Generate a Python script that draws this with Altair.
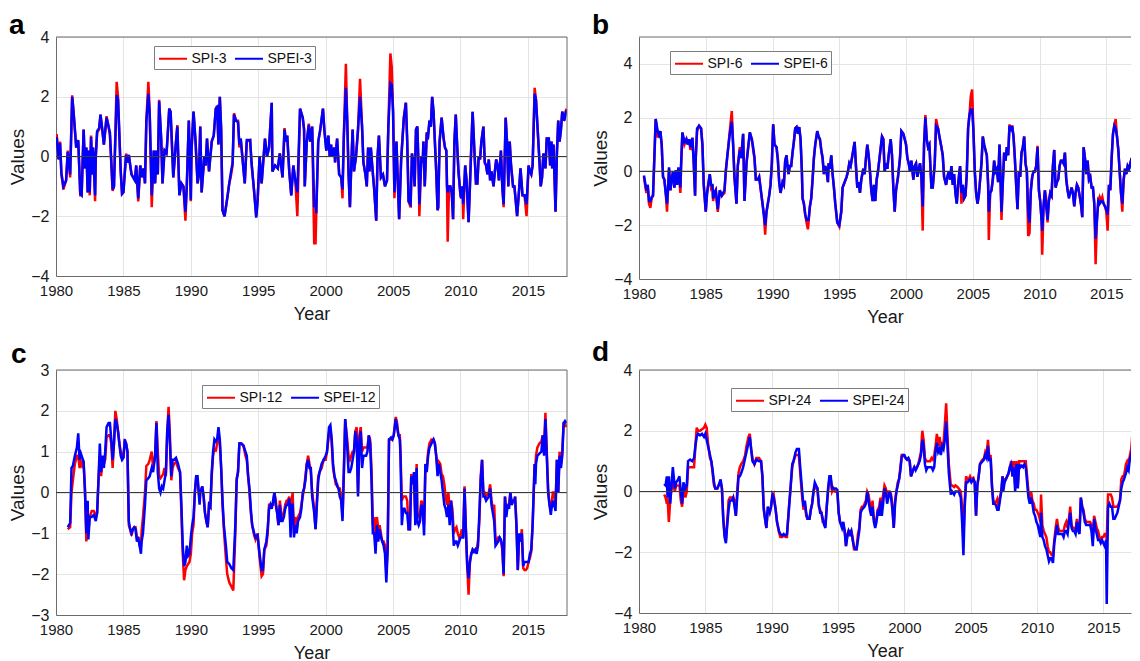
import altair as alt
import pandas as pd

FONT = "Liberation Sans"
XTICKS = [1980, 1985, 1990, 1995, 2000, 2005, 2010, 2015]

# ---------------- panel a : SPI-3 / SPEI-3 ----------------
A_YEAR = [
    1980.05, 1980.2, 1980.3, 1980.4, 1980.55, 1980.75, 1980.87, 1981.05, 1981.2, 1981.3,
    1981.5, 1981.65, 1981.8, 1981.9, 1982.05, 1982.15, 1982.25, 1982.35, 1982.4, 1982.5,
    1982.6, 1982.7, 1982.75, 1982.9, 1982.95, 1983.05, 1983.2, 1983.3, 1983.45, 1983.55,
    1983.75, 1983.9, 1984.0, 1984.2, 1984.3, 1984.5, 1984.6, 1984.8, 1984.9, 1985.0,
    1985.2, 1985.3, 1985.4, 1985.6, 1985.85, 1985.95, 1986.1, 1986.25, 1986.4, 1986.5,
    1986.6, 1986.7, 1986.85, 1986.95, 1987.1, 1987.25, 1987.35, 1987.45, 1987.55, 1987.65,
    1987.8, 1987.9, 1988.05, 1988.2, 1988.4, 1988.5, 1988.7, 1988.9, 1989.0, 1989.15,
    1989.3, 1989.45, 1989.6, 1989.7, 1989.85, 1990.0, 1990.05, 1990.2, 1990.35, 1990.5,
    1990.6, 1990.7, 1990.8, 1991.0, 1991.1, 1991.2, 1991.35, 1991.55, 1991.7, 1991.85,
    1991.95, 1992.05, 1992.15, 1992.25, 1992.35, 1992.5, 1992.7, 1992.85, 1992.95, 1993.1,
    1993.2, 1993.35, 1993.5, 1993.6, 1993.7, 1994.0, 1994.15, 1994.4, 1994.5, 1994.7,
    1994.85, 1994.95, 1995.1, 1995.25, 1995.5, 1995.65, 1995.8, 1996.0, 1996.05, 1996.25,
    1996.45, 1996.6, 1996.8, 1996.95, 1997.05, 1997.15, 1997.3, 1997.45, 1997.6, 1997.75,
    1997.9, 1998.1, 1998.3, 1998.4, 1998.45, 1998.6, 1998.75, 1998.85, 1999.0, 1999.15,
    1999.25, 1999.3, 1999.45, 1999.6, 1999.8, 1999.9, 2000.05, 2000.2, 2000.3, 2000.4,
    2000.5, 2000.65, 2000.7, 2000.85, 2001.0, 2001.15, 2001.25, 2001.35, 2001.5, 2001.6,
    2001.7, 2001.8, 2001.9, 2002.0, 2002.1, 2002.25, 2002.4, 2002.55, 2002.7, 2002.8,
    2002.95, 2003.05, 2003.15, 2003.25, 2003.35, 2003.45, 2003.6, 2003.75, 2003.85, 2003.95,
    2004.1, 2004.25, 2004.4, 2004.55, 2004.65, 2004.8, 2004.9, 2005.0, 2005.1, 2005.25,
    2005.45, 2005.6, 2005.7, 2005.8, 2005.95, 2006.05, 2006.15, 2006.3, 2006.4, 2006.5,
    2006.6, 2006.7, 2006.8, 2006.9, 2006.95, 2007.1, 2007.2, 2007.25, 2007.35, 2007.5,
    2007.6, 2007.7, 2007.8, 2007.9, 2008.0, 2008.1, 2008.2, 2008.3, 2008.35, 2008.45,
    2008.6, 2008.75, 2008.85, 2008.95, 2009.0, 2009.05, 2009.15, 2009.25, 2009.35, 2009.45,
    2009.55, 2009.65, 2009.75, 2009.85, 2010.0, 2010.05, 2010.15, 2010.2, 2010.35, 2010.45,
    2010.6, 2010.7, 2010.8, 2010.9, 2011.05, 2011.15, 2011.25, 2011.35, 2011.45, 2011.55,
    2011.7, 2011.8, 2011.9, 2012.0, 2012.1, 2012.2, 2012.3, 2012.45, 2012.55, 2012.65,
    2012.75, 2012.85, 2013.0, 2013.1, 2013.2, 2013.35, 2013.45, 2013.55, 2013.65, 2013.75,
    2013.9, 2014.0, 2014.2, 2014.35, 2014.45, 2014.6, 2014.75, 2014.9, 2015.05, 2015.15,
    2015.25, 2015.35, 2015.5, 2015.6, 2015.75, 2015.85, 2015.95, 2016.05, 2016.15, 2016.3,
    2016.4, 2016.55, 2016.65, 2016.75, 2016.8, 2016.9, 2017.05, 2017.15, 2017.25, 2017.35,
    2017.45, 2017.55, 2017.7, 2017.85]
A_SPI = [
    0.75, -0.1, 0.5, -0.6, -1.1, -0.8, 0.2, -0.7, 2.05, 1.5,
    0.3, 0.5, -1.3, -1.3, 0.9, -0.4, 0.3, -1.2, 0.2, -1.3,
    0.7, -0.6, 0.3, -1.5, 0.0, 0.8, 0.9, 1.4, 0.8, 0.4,
    1.35, 1.0, 0.7, -1.15, -1.0, 2.5, 2.0, -0.5, -1.25, -1.2,
    0.1, -0.2, 0.05, -0.6, -0.8, -0.3, -1.5, -0.3, -0.7, -0.4,
    -0.9, 1.2, 2.5, 1.5, -1.7, 0.2, -0.9, 0.2, -0.6, 1.9,
    0.6, -0.9, 0.25, 0.1, 1.6, 1.5, -0.7, 0.5, 1.05, -1.3,
    -0.9, -1.0, -2.15, -1.0, 1.2, -1.5, 0.2, 1.5, 0.5, -0.9,
    -0.6, 1.0, -1.2, 0.0, -0.3, 0.6, -0.5, 0.5, 0.7, 1.6,
    1.7, 0.4, 2.0, 0.9, -1.8, -2.0, -1.4, -0.9, -0.7, -0.3,
    1.45, 1.2, 1.2, 0.3, 0.6, -0.9, 0.5, 0.55, -0.2, -1.2,
    -2.0, -1.5, 0.0, -0.9, 0.6, 0.0, 0.3, 1.8, -0.5, -0.3,
    -0.4, 0.1, -0.7, 0.95, 0.5, 0.7, -0.5, -1.3, -0.3, -0.8,
    -2.0, 1.6, 1.3, 0.9, -1.0, 0.5, 1.1, 0.5, 1.0, -2.9,
    -2.9, -2.0, 0.5, 0.9, 1.6, 0.9, 0.2, 0.7, 0.0, 0.4,
    0.0, 0.3, -0.2, 0.6, -0.6, -0.7, -1.4, 0.7, 3.1, 1.2,
    -0.6, -1.7, -0.3, 0.9, -0.5, 0.0, 0.9, 2.6, 1.0, -0.2,
    -0.6, -1.0, 0.3, -0.5, 0.3, -0.3, -1.1, -2.15, 0.0, 0.7,
    -0.7, -0.6, -1.0, -0.8, 1.0, 3.45, 3.0, 1.5, -1.4, 0.5,
    -2.1, -0.1, 0.6, 1.3, 1.8, 0.5, -1.5, -1.7, 0.1, -0.2,
    -1.0, 0.9, 1.0, -0.5, -2.0, 0.0, -0.2, 0.5, -1.0, 0.8,
    0.7, 1.2, 1.0, 2.0, 1.5, 0.5, -0.5, -1.8, -1.7, 0.5,
    1.3, 0.6, 0.3, 0.2, -1.0, -2.85, -1.0, -1.0, -1.2, -2.1,
    0.5, 1.4, 0.4, -0.5, -1.3, -1.4, -1.0, -2.1, -0.3, -0.8,
    -2.2, -1.0, 0.3, 1.5, 0.0, -0.9, -0.9, 0.0, -0.1, 0.5,
    1.0, -0.2, -0.3, -0.6, -0.1, -0.8, -0.5, -1.0, -0.5, -0.1,
    -0.3, -0.8, 0.2, -1.0, -1.7, 1.3, 0.5, -1.0, 0.5, -0.3,
    -1.0, -1.0, -2.0, -1.1, -0.4, -1.3, -1.3, -2.0, -0.3, -0.5,
    -0.6, -0.3, 2.3, 1.9, 0.7, -0.1, -1.0, -0.7, 0.1, -0.4,
    0.6, 0.6, -0.3, 0.5, -0.4, 0.4, -1.85, 0.1, 1.2, 0.5,
    0.9, 1.5, 1.3, 1.6]
A_SPEI = [
    0.65, -0.1, 0.45, -0.55, -1.0, -0.8, 0.15, -0.6, 2.0, 1.5,
    0.3, 0.55, -1.25, -1.3, 0.9, -0.4, 0.3, -1.2, 0.2, -1.2,
    0.65, -0.6, 0.3, -1.3, 0.0, 0.85, 0.95, 1.4, 0.85, 0.4,
    1.3, 1.0, 0.8, -1.1, -1.0, 2.05, 1.9, -0.5, -1.25, -1.2,
    0.05, -0.2, 0.05, -0.6, -0.8, -0.3, -1.4, -0.3, -0.7, -0.4,
    -0.9, 1.15, 2.1, 1.4, -1.3, 0.2, -0.9, 0.2, -0.6, 1.85,
    0.6, -0.9, 0.2, 0.1, 1.6, 1.5, -0.7, 0.5, 1.0, -1.3,
    -0.9, -1.0, -1.85, -1.0, 1.2, -1.45, 0.2, 1.5, 0.5, -0.9,
    -0.6, 1.0, -1.2, 0.0, -0.3, 0.6, -0.5, 0.5, 0.7, 1.6,
    1.65, 0.4, 2.0, 0.9, -1.8, -2.0, -1.4, -0.9, -0.6, -0.2,
    1.4, 1.2, 1.15, 0.4, 0.6, -0.9, 0.55, 0.55, -0.2, -1.2,
    -2.05, -1.5, 0.0, -0.9, 0.6, 0.0, 0.3, 1.8, -0.5, -0.3,
    -0.4, 0.1, -0.7, 0.9, 0.5, 0.7, -0.5, -1.3, -0.3, -0.8,
    -1.2, 1.6, 1.3, 0.9, -1.0, 0.5, 1.05, 0.5, 1.0, -1.7,
    -1.5, -1.9, 0.5, 0.9, 1.6, 0.9, 0.2, 0.7, 0.0, 0.4,
    0.0, 0.3, -0.2, 0.6, -0.6, -0.7, -1.1, 0.7, 2.3, 1.2,
    -0.6, -1.7, -0.3, 0.9, -0.5, 0.0, 0.9, 2.0, 1.0, -0.2,
    -0.6, -1.0, 0.3, -0.5, 0.3, -0.3, -1.1, -2.15, 0.0, 0.7,
    -0.7, -0.6, -1.0, -0.8, 1.0, 2.45, 2.4, 1.5, -1.2, 0.5,
    -2.1, -0.1, 0.6, 1.3, 1.8, 0.5, -1.5, -1.6, 0.1, -0.2,
    -1.0, 0.9, 1.0, -0.5, -1.6, 0.0, -0.2, 0.5, -1.0, 0.8,
    0.7, 1.2, 1.0, 2.0, 1.5, 0.5, -0.5, -1.8, -1.7, 0.5,
    1.3, 0.6, 0.3, 0.2, -1.0, -1.2, -1.0, -1.0, -1.2, -2.1,
    0.5, 1.4, 0.4, -0.5, -1.3, -1.4, -1.0, -1.6, -0.3, -0.8,
    -2.2, -1.0, 0.3, 1.5, 0.0, -0.9, -0.9, 0.0, -0.1, 0.5,
    1.0, -0.2, -0.3, -0.6, -0.1, -0.8, -0.5, -1.0, -0.5, -0.1,
    -0.3, -0.8, 0.2, -1.0, -1.6, 1.3, 0.5, -1.0, 0.5, -0.3,
    -1.0, -1.0, -2.0, -1.1, -0.4, -1.3, -1.3, -1.6, -0.3, -0.5,
    -0.6, -0.3, 2.1, 1.9, 0.7, -0.1, -1.0, -0.7, 0.1, -0.4,
    0.6, 0.6, -0.3, 0.5, -0.4, 0.4, -1.85, 0.1, 1.2, 0.5,
    0.9, 1.5, 1.2, 1.55]

# ---------------- panel b : SPI-6 / SPEI-6 ----------------
B_YEAR = [
    1980.37, 1980.55, 1980.65, 1980.75, 1980.85, 1980.95, 1981.05, 1981.15, 1981.25, 1981.4,
    1981.5, 1981.6, 1981.7, 1981.8, 1981.9, 1982.0, 1982.1, 1982.2, 1982.25, 1982.35,
    1982.45, 1982.55, 1982.65, 1982.75, 1982.85, 1982.95, 1983.1, 1983.15, 1983.25, 1983.4,
    1983.55, 1983.65, 1983.75, 1983.85, 1984.0, 1984.1, 1984.2, 1984.25, 1984.35, 1984.5,
    1984.65, 1984.75, 1984.85, 1985.0, 1985.1, 1985.3, 1985.4, 1985.5, 1985.55, 1985.65,
    1985.75, 1985.9, 1986.05, 1986.2, 1986.4, 1986.5, 1986.6, 1986.8, 1986.95, 1987.05,
    1987.15, 1987.3, 1987.4, 1987.55, 1987.65, 1987.8, 1987.9, 1988.05, 1988.3, 1988.45,
    1988.55, 1988.65, 1988.75, 1988.9, 1989.0, 1989.1, 1989.25, 1989.35, 1989.45, 1989.55,
    1989.65, 1989.75, 1989.85, 1989.95, 1990.05, 1990.15, 1990.3, 1990.4, 1990.5, 1990.6,
    1990.75, 1990.85, 1990.95, 1991.05, 1991.1, 1991.2, 1991.3, 1991.4, 1991.5, 1991.6,
    1991.7, 1991.8, 1991.9, 1992.0, 1992.1, 1992.2, 1992.25, 1992.35, 1992.45, 1992.55,
    1992.65, 1992.7, 1992.8, 1992.9, 1993.0, 1993.1, 1993.2, 1993.35, 1993.45, 1993.55,
    1993.65, 1993.75, 1993.85, 1993.95, 1994.05, 1994.15, 1994.2, 1994.3, 1994.4, 1994.5,
    1994.6, 1994.7, 1994.85, 1995.0, 1995.15, 1995.25, 1995.4, 1995.55, 1995.65, 1995.75,
    1995.85, 1996.05, 1996.15, 1996.25, 1996.35, 1996.45, 1996.55, 1996.65, 1996.8, 1996.9,
    1997.0, 1997.1, 1997.2, 1997.3, 1997.4, 1997.5, 1997.6, 1997.7, 1997.8, 1997.9,
    1998.2, 1998.3, 1998.4, 1998.5, 1998.6, 1998.7, 1998.85, 1998.95, 1999.05, 1999.15,
    1999.25, 1999.4, 1999.55, 1999.65, 1999.8, 2000.0, 2000.1, 2000.2, 2000.3, 2000.4,
    2000.55, 2000.65, 2000.75, 2000.85, 2000.95, 2001.05, 2001.15, 2001.25, 2001.35, 2001.45,
    2001.55, 2001.65, 2001.75, 2001.9, 2002.0, 2002.15, 2002.25, 2002.4, 2002.5, 2002.65,
    2002.75, 2002.85, 2003.0, 2003.1, 2003.2, 2003.3, 2003.4, 2003.5, 2003.6, 2003.7,
    2003.8, 2003.9, 2004.0, 2004.05, 2004.15, 2004.25, 2004.35, 2004.45, 2004.55, 2004.65,
    2004.75, 2004.85, 2004.95, 2005.05, 2005.15, 2005.25, 2005.35, 2005.45, 2005.55, 2005.65,
    2005.75, 2005.85, 2005.95, 2006.05, 2006.15, 2006.2, 2006.3, 2006.4, 2006.5, 2006.6,
    2006.7, 2006.8, 2006.9, 2007.0, 2007.05, 2007.15, 2007.25, 2007.35, 2007.45, 2007.55,
    2007.65, 2007.75, 2007.85, 2007.95, 2008.05, 2008.15, 2008.25, 2008.35, 2008.45, 2008.55,
    2008.65, 2008.75, 2008.85, 2008.95, 2009.05, 2009.15, 2009.25, 2009.35, 2009.45, 2009.55,
    2009.65, 2009.75, 2009.85, 2009.95, 2010.05, 2010.15, 2010.2, 2010.3, 2010.4, 2010.5,
    2010.6, 2010.7, 2010.8, 2010.9, 2011.0, 2011.1, 2011.2, 2011.3, 2011.4, 2011.5,
    2011.6, 2011.7, 2011.8, 2011.9, 2012.0, 2012.1, 2012.2, 2012.3, 2012.4, 2012.5,
    2012.6, 2012.7, 2012.8, 2012.9, 2013.0, 2013.1, 2013.2, 2013.3, 2013.4, 2013.5,
    2013.6, 2013.7, 2013.8, 2013.9, 2014.0, 2014.1, 2014.2, 2014.3, 2014.4, 2014.5,
    2014.6, 2014.7, 2014.8, 2014.9, 2015.0, 2015.1, 2015.2, 2015.3, 2015.4, 2015.5,
    2015.6, 2015.7, 2015.8, 2015.9, 2016.0, 2016.1, 2016.2, 2016.3, 2016.4, 2016.5,
    2016.6, 2016.7, 2016.8, 2016.9, 2017.0, 2017.1, 2017.2, 2017.3, 2017.4, 2017.5,
    2017.6, 2017.7]
B_SPI = [
    -0.2, -0.8, -0.5, -1.2, -1.35, -1.0, -0.9, 0.5, 1.95, 1.3,
    1.3, 1.5, 1.0, -0.2, -0.3, -0.8, -1.5, -0.4, 0.1, -0.7,
    -0.3, 0.0, -0.6, 0.0, -0.5, 0.1, -0.8, 0.2, 1.45, 1.0,
    1.2, 1.0, 1.2, 0.8, 1.25, 0.3, -0.9, 0.5, 1.5, 1.7,
    1.6, 1.0, -0.5, -1.5, -0.8, -0.1, -0.6, -0.5, -1.1, -0.8,
    -0.7, -1.5, -0.7, -0.9, -0.8, 0.0, 0.5, 1.5, 2.25, 1.0,
    -0.2, -1.2, 0.2, 0.9, 0.5, 1.4, -1.1, 0.3, 1.45, 1.2,
    0.8, 0.5, -0.3, -0.3, -0.2, -0.6, -1.2, -1.6, -2.35, -1.5,
    -1.2, -0.9, -0.5, 0.3, 1.75, 1.0, 0.9, 0.5, -0.4, -0.8,
    -0.4, -0.5, 0.4, 0.6, 0.3, -0.1, 0.2, 0.2, 0.7, 1.1,
    1.6, 1.65, 1.4, 1.65, 1.2, 0.0, -1.0, -1.2, -1.6, -1.9,
    -2.15, -1.9, -1.3, -1.0, -0.3, 0.5, 1.0, 1.5, 1.3, 1.2,
    0.8, 0.5, -0.1, 0.2, 0.0, -0.4, 0.3, 0.1, 0.6, -0.1,
    -0.6, -1.2, -1.9, -2.05, -1.5, -0.6, -0.4, -0.2, 0.0, 0.3,
    0.2, 0.8, 1.1, 0.2, -0.6, -0.4, -0.8, -0.3, 0.1, -0.1,
    0.5, 1.0, 0.6, 0.0, -0.7, -1.1, -0.5, -1.1, -0.3, 0.0,
    1.3, 1.2, 0.0, 0.3, 0.1, 0.6, 1.2, 0.6, -0.6, -1.5,
    -0.7, -0.2, 0.5, 1.5, 1.4, 1.0, 0.5, 0.3, 0.0, 0.4,
    -0.3, 0.2, 0.3, -0.2, 0.1, 0.3, -0.2, -2.2, 1.0, 2.1,
    1.2, 0.9, 1.0, -0.6, -0.6, 0.3, 1.95, 1.6, 1.3, 0.9,
    0.6, -0.2, -0.5, -0.2, 0.0, -0.3, 0.2, -0.5, -0.1, -0.8,
    -1.2, -0.5, 0.0, 0.2, -1.2, -0.5, -1.0, -0.9, -0.1, 1.6,
    2.1, 2.8, 3.05, 1.5, 0.0, -0.8, -1.2, -0.9, -0.3, 0.3,
    1.3, 1.0, 0.8, 0.6, -0.5, -2.55, -0.8, -0.7, -0.3, 0.4,
    0.0, 0.1, -0.4, 1.0, 0.2, -1.8, -0.4, 0.7, 0.4, 0.9,
    0.6, 1.75, 1.5, 1.7, 1.3, 0.5, -0.5, -1.4, 0.0, -0.2,
    0.7, 0.9, 1.3, 0.3, 0.0, -2.4, -2.3, -0.7, -0.2, 0.0,
    0.0, 0.2, 0.95, -0.7, -1.1, -1.8, -3.1, -1.3, -0.7, -1.0,
    -1.9, -1.1, -0.8, -0.9, 0.2, 0.8, -0.6, -0.4, -0.3, 0.2,
    0.4, 0.4, 0.3, 0.7, -0.3, -0.7, -0.9, -0.8, -0.6, -0.8,
    -1.3, -0.8, -0.5, -0.6, -0.9, -1.2, -1.7, 0.9, 0.5, -0.1,
    0.4, -0.3, -0.2, -0.6, -0.6, -1.2, -3.45, -1.8, -1.1, -0.95,
    -1.1, -0.95, -1.2, -1.3, -1.5, -2.2, -0.5, -0.7, 0.5, 1.4,
    1.7, 1.95, 1.3, 0.8, 0.0, -0.8, -1.5, -0.3, 0.1, -0.1,
    0.2, 0.1, 0.3, 0.5, -0.6, 0.6, 1.3, 0.8, 0.3, 1.3,
    0.5, 0.3]
B_SPEI = [
    -0.15, -0.7, -0.5, -1.1, -1.1, -0.95, -0.9, 0.5, 1.95, 1.5,
    1.35, 1.5, 1.0, -0.2, -0.3, -0.8, -1.2, -0.4, 0.15, -0.7,
    -0.3, 0.0, -0.6, 0.05, -0.5, 0.15, -0.6, 0.2, 1.45, 1.1,
    1.2, 1.0, 1.2, 0.9, 1.25, 0.3, -0.9, 0.5, 1.6, 1.7,
    1.6, 1.0, -0.5, -1.5, -0.8, -0.1, -0.5, -0.5, -1.0, -0.8,
    -0.7, -1.4, -0.7, -0.9, -0.7, 0.0, 0.5, 1.4, 1.85, 1.0,
    -0.2, -1.2, 0.2, 0.8, 0.5, 1.4, -1.1, 0.3, 1.45, 1.2,
    0.9, 0.5, -0.3, -0.3, -0.2, -0.6, -1.2, -1.6, -2.0, -1.5,
    -1.2, -0.9, -0.5, 0.3, 1.75, 1.0, 0.9, 0.4, -0.4, -0.8,
    -0.4, -0.5, 0.4, 0.6, 0.3, -0.1, 0.2, 0.2, 0.7, 1.1,
    1.6, 1.65, 1.4, 1.65, 1.2, 0.0, -1.0, -1.2, -1.6, -1.8,
    -1.8, -1.8, -1.3, -1.0, -0.3, 0.5, 1.0, 1.5, 1.3, 1.2,
    0.8, 0.5, -0.1, 0.2, 0.0, -0.4, 0.3, 0.1, 0.6, -0.1,
    -0.6, -1.2, -1.9, -2.0, -1.5, -0.6, -0.4, -0.2, 0.0, 0.3,
    0.2, 0.8, 1.1, 0.2, -0.6, -0.4, -0.8, -0.3, 0.1, -0.1,
    0.5, 1.0, 0.6, 0.0, -0.7, -1.1, -0.5, -1.1, -0.3, 0.0,
    1.3, 1.2, 0.0, 0.3, 0.1, 0.6, 1.2, 0.6, -0.6, -1.5,
    -0.7, -0.2, 0.5, 1.5, 1.4, 1.0, 0.5, 0.3, 0.0, 0.4,
    -0.3, 0.2, 0.3, -0.2, 0.1, 0.3, -0.2, -1.3, 1.0, 2.0,
    1.2, 0.9, 1.0, -0.6, -0.6, 0.3, 1.7, 1.6, 1.3, 0.9,
    0.6, -0.2, -0.5, -0.2, 0.0, -0.3, 0.2, -0.5, -0.1, -0.8,
    -1.2, -0.5, 0.0, 0.2, -0.8, -0.5, -1.0, -0.9, -0.1, 1.6,
    2.1, 2.3, 2.3, 1.5, 0.0, -0.8, -1.2, -0.9, -0.3, 0.3,
    1.3, 1.0, 0.8, 0.6, -0.5, -1.5, -0.8, -0.7, -0.3, 0.4,
    0.0, 0.1, -0.4, 1.0, 0.2, -1.5, -0.4, 0.7, 0.4, 0.9,
    0.6, 1.7, 1.5, 1.7, 1.3, 0.5, -0.5, -1.4, 0.0, -0.2,
    0.7, 0.9, 1.3, 0.3, 0.0, -1.5, -1.9, -0.7, -0.2, 0.0,
    0.0, 0.2, 0.9, -0.7, -1.1, -1.8, -2.2, -1.3, -0.7, -1.3,
    -1.8, -1.1, -0.8, -0.9, 0.2, 0.8, -0.6, -0.4, -0.3, 0.2,
    0.4, 0.4, 0.3, 0.7, -0.3, -0.7, -1.0, -0.8, -0.6, -0.8,
    -1.3, -0.8, -0.5, -0.6, -0.9, -1.2, -1.7, 0.9, 0.5, -0.1,
    0.4, -0.3, -0.2, -0.6, -0.6, -1.2, -2.5, -1.8, -1.1, -1.2,
    -1.1, -1.1, -1.2, -1.3, -1.4, -1.6, -0.5, -0.7, 0.5, 1.4,
    1.7, 1.6, 1.3, 0.8, 0.0, -0.8, -1.2, -0.3, 0.1, -0.1,
    0.2, 0.1, 0.3, 0.5, -0.6, 0.6, 1.3, 0.8, 0.3, 1.3,
    0.5, 0.3]

# ---------------- panel c : SPI-12 / SPEI-12 ----------------
C_YEAR = [
    1980.87, 1981.05, 1981.15, 1981.25, 1981.4, 1981.55, 1981.65, 1981.75, 1981.85, 1981.95,
    1982.05, 1982.15, 1982.25, 1982.35, 1982.4, 1982.5, 1982.65, 1982.8, 1982.95, 1983.05,
    1983.15, 1983.25, 1983.35, 1983.45, 1983.55, 1983.65, 1983.75, 1983.9, 1984.0, 1984.1,
    1984.2, 1984.3, 1984.4, 1984.5, 1984.6, 1984.7, 1984.8, 1984.9, 1985.0, 1985.1,
    1985.2, 1985.3, 1985.4, 1985.5, 1985.6, 1985.7, 1985.8, 1985.9, 1986.0, 1986.1,
    1986.2, 1986.3, 1986.35, 1986.45, 1986.6, 1986.7, 1986.85, 1986.95, 1987.1, 1987.2,
    1987.35, 1987.45, 1987.55, 1987.65, 1987.75, 1987.85, 1987.95, 1988.05, 1988.15, 1988.25,
    1988.35, 1988.45, 1988.55, 1988.65, 1988.75, 1988.9, 1989.05, 1989.2, 1989.3, 1989.4,
    1989.5, 1989.6, 1989.7, 1989.8, 1989.9, 1990.0, 1990.1, 1990.2, 1990.3, 1990.4,
    1990.5, 1990.65, 1990.7, 1990.85, 1990.95, 1991.05, 1991.15, 1991.25, 1991.35, 1991.45,
    1991.55, 1991.65, 1991.75, 1991.85, 1991.95, 1992.05, 1992.15, 1992.25, 1992.35, 1992.45,
    1992.6, 1992.7, 1992.85, 1993.0, 1993.15, 1993.3, 1993.4, 1993.5, 1993.6, 1993.75,
    1993.9, 1994.05, 1994.15, 1994.25, 1994.35, 1994.45, 1994.55, 1994.7, 1994.8, 1994.95,
    1995.1, 1995.25, 1995.35, 1995.45, 1995.6, 1995.7, 1995.8, 1995.9, 1996.0, 1996.1,
    1996.2, 1996.3, 1996.4, 1996.5, 1996.6, 1996.7, 1996.8, 1996.9, 1997.0, 1997.1,
    1997.2, 1997.3, 1997.4, 1997.45, 1997.55, 1997.65, 1997.75, 1997.85, 1997.95, 1998.1,
    1998.2, 1998.3, 1998.4, 1998.5, 1998.6, 1998.7, 1998.8, 1998.9, 1999.0, 1999.15,
    1999.25, 1999.35, 1999.45, 1999.55, 1999.7, 1999.85, 2000.0, 2000.1, 2000.25, 2000.35,
    2000.45, 2000.55, 2000.65, 2000.75, 2000.85, 2000.95, 2001.05, 2001.15, 2001.25, 2001.35,
    2001.45, 2001.5, 2001.6, 2001.7, 2001.8, 2001.9, 2002.0, 2002.1, 2002.2, 2002.3,
    2002.4, 2002.5, 2002.6, 2002.7, 2002.8, 2002.9, 2003.0, 2003.1, 2003.2, 2003.3,
    2003.4, 2003.5, 2003.6, 2003.7, 2003.8, 2003.9, 2004.0, 2004.1, 2004.2, 2004.3,
    2004.4, 2004.5, 2004.6, 2004.7, 2004.85, 2004.95, 2005.05, 2005.2, 2005.3, 2005.4,
    2005.5, 2005.55, 2005.65, 2005.75, 2005.85, 2005.95, 2006.05, 2006.15, 2006.25, 2006.35,
    2006.45, 2006.55, 2006.65, 2006.75, 2006.8, 2006.9, 2007.0, 2007.1, 2007.2, 2007.3,
    2007.4, 2007.5, 2007.6, 2007.7, 2007.85, 2008.0, 2008.1, 2008.2, 2008.3, 2008.4,
    2008.5, 2008.6, 2008.7, 2008.8, 2008.9, 2009.0, 2009.1, 2009.2, 2009.3, 2009.4,
    2009.5, 2009.6, 2009.7, 2009.8, 2009.9, 2010.0, 2010.1, 2010.2, 2010.3, 2010.4,
    2010.5, 2010.6, 2010.7, 2010.8, 2010.9, 2011.0, 2011.1, 2011.2, 2011.3, 2011.4,
    2011.5, 2011.6, 2011.7, 2011.8, 2011.9, 2012.0, 2012.1, 2012.2, 2012.3, 2012.4,
    2012.5, 2012.6, 2012.7, 2012.8, 2012.9, 2013.0, 2013.1, 2013.2, 2013.3, 2013.4,
    2013.5, 2013.6, 2013.7, 2013.8, 2013.9, 2014.0, 2014.05, 2014.15, 2014.25, 2014.35,
    2014.45, 2014.55, 2014.65, 2014.75, 2014.85, 2014.95, 2015.05, 2015.15, 2015.25, 2015.35,
    2015.5, 2015.55, 2015.6, 2015.7, 2015.85, 2016.0, 2016.1, 2016.2, 2016.3, 2016.4,
    2016.5, 2016.6, 2016.7, 2016.75, 2016.85, 2016.95, 2017.05, 2017.15, 2017.25, 2017.35,
    2017.45, 2017.55, 2017.65, 2017.75, 2017.85]
C_SPI = [
    -0.9, -0.85, 0.0, 0.3, 0.7, 0.9, 0.9, 0.6, 0.8, 0.65,
    0.7, 0.1, -1.2, -0.6, -1.0, -0.6, -0.45, -0.45, -0.55, -0.5,
    0.3, 0.9, 0.4, 0.9, 0.7, 0.8, 1.35, 1.4, 1.4, 1.2,
    0.6, 1.2, 2.0, 1.8, 1.5, 1.2, 1.0, 0.95, 0.85, 1.25,
    1.2, 1.0, -0.8, -0.9, -1.05, -0.9, -0.85, -0.85, -1.1, -1.1,
    -1.3, -1.3, -0.95, -0.6, 0.0, 0.65, 0.7, 0.8, 1.0, 0.6,
    0.9, 1.75, 1.0, 0.4, 0.35, 0.4, 0.45, 0.6, 0.4, 1.5,
    2.1, 1.4, 0.3, 0.6, 0.7, 0.75, 0.6, 0.5, -0.5, -1.5,
    -2.15, -1.9, -1.8, -1.75, -1.7, -1.5, -1.0, -0.8, 0.0, 0.4,
    0.3, -0.2, 0.0, 0.15, -0.1, -0.5, -0.7, -0.85, -0.3, -0.35,
    0.4, 0.9, 1.1, 1.0, 1.2, 1.4, 1.2, 0.6, -0.3, -0.9,
    -1.6, -2.0, -2.2, -2.3, -2.4, -1.0, 0.35, 0.5, 1.2, 1.2,
    1.15, 0.9, 0.8, 0.4, 0.0, -0.5, -0.8, -1.05, -1.15, -1.0,
    -1.6, -2.05, -2.0, -1.4, -1.3, -1.0, -0.3, -0.3, -0.3, -0.3,
    0.0, -0.2, -0.5, -0.8, -0.2, -0.5, -0.6, -0.5, -0.3, -0.2,
    -0.2, -0.1, -0.9, -0.3, 0.0, -1.0, -0.6, -0.9, -0.6, -0.5,
    -0.3, -0.1, 0.1, 0.4, 0.7, 0.9, 0.7, 0.5, 0.0, -0.4,
    -0.9, -0.2, 0.4, 0.5, 0.6, 0.8, 0.8, 1.0, 1.45, 1.6,
    1.2, 0.6, 0.4, 0.2, 0.2, 0.1, 0.1, -0.1, -0.6, 0.5,
    1.8, 1.6, 1.3, 0.9, 0.8, 0.9, 1.0, 1.0, 1.5, 1.6,
    0.0, 1.4, 1.6, 1.0, 1.1, 1.1, 1.1, 1.1, 1.4, 1.3,
    0.6, -0.8, -0.6, -1.3, -0.6, -0.9, -0.8, -1.0, -1.2, -1.2,
    -1.3, -2.0, -1.3, 1.3, 1.3, 1.3, 1.4, 1.85, 1.7, 1.4,
    1.4, 1.0, -0.2, -0.1, -0.1, -0.1, -0.2, -0.9, -0.9, 0.45,
    0.3, 0.4, -0.6, 0.7, -0.6, -0.6, -0.5, -0.2, -0.3, -0.8,
    0.7, 0.6, 1.0, 1.2, 1.3, 1.3, 1.2, 0.9, 0.6, 0.75,
    0.7, 0.45, 0.4, 0.2, -0.1, -0.3, 0.0, -0.4, -0.2, -0.4,
    -1.0, -0.9, -0.85, -1.0, -1.1, -1.05, -0.9, -1.1, 0.15, -0.9,
    -1.8, -2.5, -1.7, -1.5, -1.4, -1.45, -1.4, -1.4, -1.2, -0.7,
    0.4, 0.8, 0.0, 0.0, -0.1, -0.05, 0.0, 0.2, -0.2, -0.4,
    -0.3, -1.2, -1.2, -1.1, -1.1, -1.2, -1.4, -2.05, -0.1, -0.5,
    -0.3, -0.3, 0.0, -0.3, -0.2, -0.2, -0.1, -0.8, -1.9, -1.1,
    -1.2, -0.9, -1.85, -1.9, -1.9, -1.85, -1.7, -1.6, -1.45, -0.8,
    0.7, 0.6, 0.9, 1.1, 1.2, 1.25, 1.4, 1.2, 1.95, 1.0,
    0.1, -0.3, -0.4, -0.3, 0.0, 0.0, -0.3, 0.8, 0.0, 1.0,
    0.7, 1.0, 1.7, 1.7, 1.6]
C_SPEI = [
    -0.85, -0.75, 0.6, 0.65, 0.9, 1.1, 1.45, 0.8, 0.95, 0.85,
    0.75, 0.0, -1.0, -0.2, -1.15, -0.6, -0.6, -0.55, -0.7, -0.5,
    0.3, 1.2, 0.5, 0.9, 0.6, 1.0, 1.6, 1.7, 1.7, 1.3,
    0.8, 1.2, 1.8, 1.7, 1.5, 1.2, 0.9, 0.8, 0.85, 1.3,
    1.2, 1.0, -0.7, -0.9, -1.0, -0.9, -0.85, -0.9, -1.2, -1.1,
    -1.3, -1.5, -1.2, -1.0, -0.3, 0.3, 0.35, 0.4, 0.6, 0.5,
    0.9, 1.7, 0.5, 0.1, 0.0, 0.15, 0.1, 0.3, 0.5, 1.5,
    1.9, 1.2, 0.4, 0.8, 0.8, 0.85, 0.7, 0.5, -0.3, -1.3,
    -1.8, -1.7, -1.3, -1.55, -1.5, -1.1, -0.8, -0.6, 0.0, 0.4,
    0.4, -0.3, 0.0, 0.15, -0.1, -0.5, -0.7, -0.85, -0.3, -0.35,
    0.5, 1.0, 1.3, 1.25, 1.3, 1.6, 1.3, 0.6, -0.2, -0.8,
    -1.3, -1.7, -1.75, -1.85, -1.9, -0.8, 0.3, 0.5, 1.2, 1.2,
    1.15, 1.0, 0.9, 0.4, 0.1, -0.4, -0.8, -1.0, -1.1, -1.05,
    -1.5, -1.9, -1.9, -1.4, -1.2, -0.9, -0.4, -0.3, -0.4, -0.2,
    0.0, -0.3, -0.5, -0.8, -0.3, -0.7, -0.7, -0.6, -0.4, -0.3,
    -0.3, -0.15, -1.1, -0.3, -0.3, -1.1, -0.8, -1.0, -0.7, -0.6,
    -0.4, 0.0, 0.1, 0.3, 0.7, 0.8, 0.6, 0.6, -0.1, -0.5,
    -0.9, -0.3, 0.3, 0.5, 0.7, 0.8, 0.9, 1.0, 1.6, 1.65,
    1.3, 0.7, 0.4, 0.3, 0.15, 0.1, -0.1, -0.2, -0.7, 0.5,
    1.8, 1.6, 1.1, 0.5, 0.5, 0.6, 0.8, 1.0, 1.5, 1.3,
    -0.1, 1.2, 1.5, 0.6, 0.9, 0.9, 0.9, 1.0, 1.4, 1.2,
    0.3, -1.0, -1.0, -1.5, -0.8, -1.2, -0.9, -1.1, -1.2, -1.3,
    -1.5, -2.2, -1.4, 1.3, 1.35, 1.3, 1.4, 1.8, 1.6, 1.4,
    1.3, 0.9, -0.8, -0.4, -0.4, -0.5, -0.5, -0.9, -0.9, 0.4,
    0.2, 0.5, -0.8, 0.6, -0.7, -0.8, -0.7, -0.3, -0.4, -1.05,
    0.7, 0.5, 0.9, 1.1, 1.2, 1.3, 1.2, 0.9, 0.4, 0.7,
    0.5, 0.3, 0.0, -0.3, -0.4, -0.6, -0.3, -0.8, -0.2, -0.6,
    -1.3, -1.2, -1.2, -1.3, -1.2, -1.1, -1.1, -1.1, 0.1, -0.9,
    -1.8, -2.1, -1.7, -1.5, -1.4, -1.45, -1.4, -1.5, -1.3, -0.5,
    0.3, 0.8, -0.1, -0.1, -0.2, -0.15, -0.1, 0.1, -0.3, -0.5,
    -0.7, -1.3, -1.25, -1.2, -1.1, -1.15, -1.3, -2.0, -0.1, -0.6,
    -0.3, -0.4, 0.0, -0.3, -0.2, -0.2, -0.1, -0.8, -1.9, -1.0,
    -1.2, -1.0, -1.8, -1.7, -1.7, -1.7, -1.7, -1.5, -1.4, -0.8,
    0.7, 0.2, 0.7, 0.9, 0.95, 1.0, 1.4, 0.9, 1.8, 0.9,
    0.0, -0.3, -0.55, -0.4, -0.2, -0.3, -0.45, 0.8, 0.0, 0.9,
    0.6, 0.9, 1.7, 1.75, 1.7]

# ---------------- panel d : SPI-24 / SPEI-24 ----------------
D_YEAR = [
    1981.9, 1982.0, 1982.1, 1982.15, 1982.25, 1982.35, 1982.45, 1982.55, 1982.7, 1982.8,
    1982.95, 1983.05, 1983.15, 1983.25, 1983.35, 1983.5, 1983.6, 1983.7, 1983.85, 1984.0,
    1984.15, 1984.25, 1984.35, 1984.45, 1984.6, 1984.75, 1984.9, 1985.0, 1985.1, 1985.2,
    1985.35, 1985.45, 1985.55, 1985.65, 1985.75, 1985.9, 1986.0, 1986.15, 1986.25, 1986.35,
    1986.45, 1986.55, 1986.65, 1986.75, 1986.85, 1987.0, 1987.1, 1987.2, 1987.3, 1987.4,
    1987.5, 1987.6, 1987.7, 1987.85, 1988.0, 1988.1, 1988.25, 1988.35, 1988.45, 1988.55,
    1988.7, 1988.85, 1989.05, 1989.2, 1989.3, 1989.4, 1989.5, 1989.6, 1989.7, 1989.85,
    1989.95, 1990.05, 1990.15, 1990.3, 1990.4, 1990.55, 1990.65, 1990.8, 1990.9, 1991.05,
    1991.15, 1991.3, 1991.4, 1991.55, 1991.65, 1991.8, 1991.9, 1992.05, 1992.15, 1992.3,
    1992.4, 1992.5, 1992.6, 1992.7, 1992.85, 1992.95, 1993.05, 1993.15, 1993.25, 1993.35,
    1993.45, 1993.55, 1993.65, 1993.75, 1993.85, 1993.95, 1994.05, 1994.15, 1994.25, 1994.35,
    1994.45, 1994.55, 1994.65, 1994.75, 1994.85, 1994.95, 1995.05, 1995.15, 1995.3, 1995.4,
    1995.5, 1995.6, 1995.7, 1995.8, 1995.9, 1996.0, 1996.1, 1996.2, 1996.3, 1996.4,
    1996.5, 1996.6, 1996.7, 1996.8, 1996.9, 1997.0, 1997.1, 1997.2, 1997.3, 1997.4,
    1997.5, 1997.6, 1997.7, 1997.8, 1997.9, 1998.0, 1998.1, 1998.2, 1998.3, 1998.4,
    1998.5, 1998.6, 1998.7, 1998.8, 1998.9, 1999.0, 1999.1, 1999.2, 1999.3, 1999.4,
    1999.5, 1999.6, 1999.7, 1999.8, 1999.9, 2000.0, 2000.1, 2000.2, 2000.3, 2000.4,
    2000.5, 2000.65, 2000.75, 2000.85, 2000.95, 2001.05, 2001.15, 2001.25, 2001.35, 2001.45,
    2001.55, 2001.65, 2001.75, 2001.85, 2001.95, 2002.05, 2002.15, 2002.25, 2002.35, 2002.45,
    2002.55, 2002.65, 2002.75, 2002.85, 2002.95, 2003.05, 2003.15, 2003.25, 2003.35, 2003.5,
    2003.6, 2003.75, 2003.85, 2004.0, 2004.1, 2004.25, 2004.35, 2004.45, 2004.55, 2004.65,
    2004.75, 2004.85, 2004.95, 2005.05, 2005.2, 2005.3, 2005.4, 2005.5, 2005.6, 2005.7,
    2005.8, 2005.9, 2006.0, 2006.1, 2006.2, 2006.3, 2006.4, 2006.5, 2006.6, 2006.7,
    2006.8, 2006.9, 2007.0, 2007.1, 2007.2, 2007.3, 2007.4, 2007.45, 2007.55, 2007.65,
    2007.75, 2007.85, 2007.95, 2008.05, 2008.15, 2008.25, 2008.35, 2008.45, 2008.55, 2008.65,
    2008.75, 2008.85, 2008.95, 2009.05, 2009.15, 2009.25, 2009.35, 2009.45, 2009.55, 2009.65,
    2009.75, 2009.85, 2009.95, 2010.05, 2010.15, 2010.25, 2010.3, 2010.4, 2010.5, 2010.6,
    2010.7, 2010.8, 2010.9, 2011.0, 2011.1, 2011.2, 2011.3, 2011.4, 2011.5, 2011.6,
    2011.7, 2011.8, 2011.9, 2012.0, 2012.1, 2012.2, 2012.3, 2012.4, 2012.5, 2012.6,
    2012.7, 2012.8, 2012.9, 2013.0, 2013.1, 2013.2, 2013.3, 2013.4, 2013.5, 2013.6,
    2013.7, 2013.8, 2013.9, 2014.0, 2014.1, 2014.2, 2014.3, 2014.4, 2014.5, 2014.6,
    2014.7, 2014.8, 2014.9, 2015.0, 2015.1, 2015.2, 2015.25, 2015.35, 2015.45, 2015.55,
    2015.65, 2015.75, 2015.85, 2015.95, 2016.05, 2016.15, 2016.25, 2016.35, 2016.45, 2016.55,
    2016.7, 2016.8, 2016.9, 2017.0, 2017.1, 2017.2, 2017.3, 2017.4, 2017.5, 2017.6,
    2017.7]
D_SPI = [
    -0.1, -0.2, -0.4, -0.2, -1.0, -0.3, 0.1, 0.3, 0.0, 0.2,
    0.2, 0.2, -0.3, -0.5, 0.1, -0.2, 0.0, 0.8, 0.8, 0.8,
    0.8, 1.5, 2.1, 2.0, 2.0, 2.05, 2.1, 2.2, 2.1, 1.6,
    1.1, 1.0, 0.6, 0.2, 0.1, 0.1, 0.2, 0.3, 0.1, -0.9,
    -1.4, -1.6, -1.0, -0.3, -0.2, -0.2, -0.2, -0.3, -0.8, 0.0,
    0.6, 0.8, 0.9, 1.0, 1.2, 1.5, 1.8, 1.9, 1.4, 1.1,
    0.9, 1.1, 1.1, 1.0, 0.5, -0.5, -0.9, -1.2, -0.7, -0.7,
    -0.5, -0.2, -0.1, -0.6, -1.0, -1.35, -1.5, -1.5, -1.45, -1.5,
    -1.5, -0.5, 0.0, 0.8, 1.0, 1.2, 1.2, 1.2, 0.6, -0.2,
    -0.6, -0.4, -0.8, -0.9, -0.9, -0.6, -0.4, 0.0, 0.2, 0.1,
    0.1, -0.5, -0.6, -0.7, -1.0, -1.0, -1.1, -0.5, 0.0, 0.4,
    0.4, 0.0, 0.1, 0.0, 0.0, -0.05, -0.7, -1.0, -1.1, -1.1,
    -1.3, -1.8, -1.4, -1.3, -1.4, -1.3, -1.5, -1.9, -1.9, -1.9,
    -1.4, -1.2, -0.6, -0.5, -0.5, -0.4, -0.3, 0.0, -0.1, -0.4,
    -0.7, -0.3, -0.9, -1.0, -0.9, -0.6, -0.5, -0.2, -0.4, -0.1,
    0.2, 0.1, -0.2, 0.0, 0.0, -0.1, -0.5, -1.2, -0.3, 0.0,
    0.3, 0.4, 0.8, 1.2, 1.2, 1.15, 1.1, 1.05, 1.1, 1.0,
    0.5, 0.7, 0.8, 0.75, 0.8, 0.9, 1.1, 1.3, 2.0, 1.7,
    1.1, 1.0, 1.0, 1.0, 1.0, 1.1, 1.05, 1.2, 1.5, 1.9,
    1.5, 1.8, 1.5, 1.6, 1.6, 2.2, 2.9, 1.8, 0.9, 0.2,
    0.2, 0.15, 0.2, 0.15, 0.1, 0.0, -0.5, -1.5, -0.3, 0.5,
    0.4, 0.4, 0.5, 0.4, 0.45, 0.3, -0.8, 0.2, 0.5, 0.9,
    1.0, 1.05, 1.1, 1.3, 1.2, 1.7, 1.1, 1.2, 0.2, -0.3,
    -0.35, -0.35, -0.25, -0.5, -0.2, 0.0, 0.5, 0.1, 0.4, 0.4,
    0.5, 0.6, 0.8, 1.0, 0.5, 1.0, 0.2, 1.0, 0.2, 1.0,
    1.0, 1.0, 1.0, 1.0, 1.0, 0.5, 0.0, -0.2, 0.0, -0.3,
    -0.4, -0.6, -0.6, -0.7, -0.8, -1.0, -0.1, -1.1, -1.3, -1.4,
    -1.5, -1.8, -2.0, -2.0, -2.1, -2.1, -1.6, -1.2, -0.9, -1.2,
    -1.3, -1.3, -1.3, -1.3, -1.1, -1.0, -1.2, -0.9, -0.5, -1.1,
    -1.2, -1.2, -1.3, -0.9, -1.2, -1.3, -0.2, -0.5, -0.6, -0.9,
    -1.0, -1.0, -1.0, -1.0, -1.1, -1.6, -0.8, -1.0, -1.2, -1.3,
    -1.5, -1.6, -1.5, -1.5, -1.4, -1.4, -1.6, -0.1, -0.1, -0.1,
    -0.2, -0.5, -0.5, -0.5, -0.5, -0.4, -0.3, 0.4, 0.5, 0.5,
    0.9, 1.0, 0.9, 1.2, 1.4, 2.0, 1.6, 1.0, 0.7, 0.8,
    1.0]
D_SPEI = [
    0.25, 0.2, 0.5, -0.2, 0.5, -0.4, 0.2, 0.8, 0.1, 0.3,
    0.4, 0.5, 0.0, -0.4, 0.3, 0.1, 0.2, 1.0, 1.05, 1.0,
    1.1, 1.5, 1.8, 1.9, 1.85, 1.9, 1.8, 1.9, 1.7, 1.5,
    1.2, 1.0, 0.7, 0.3, 0.1, 0.1, 0.2, 0.4, 0.1, -0.9,
    -1.5, -1.7, -1.1, -0.6, -0.3, -0.3, -0.2, -0.5, -0.8, -0.2,
    0.5, 0.5, 0.6, 0.8, 1.1, 1.3, 1.6, 1.8, 1.4, 1.0,
    0.9, 1.05, 1.0, 1.0, 0.5, -0.6, -0.9, -1.2, -0.5, -0.7,
    -0.5, -0.1, -0.2, -0.6, -1.0, -1.3, -1.4, -1.45, -1.4, -1.45,
    -1.4, -0.6, 0.0, 0.9, 1.0, 1.3, 1.4, 1.4, 0.8, 0.0,
    -0.5, -0.3, -0.7, -0.9, -0.9, -0.6, -0.4, 0.0, 0.3, 0.2,
    0.1, -0.4, -0.7, -0.7, -0.9, -1.1, -1.2, -0.5, 0.1, 0.5,
    0.5, 0.1, 0.1, 0.1, 0.1, 0.05, -0.7, -1.0, -1.2, -1.0,
    -1.3, -1.8, -1.5, -1.3, -1.4, -1.3, -1.6, -1.8, -1.9, -1.9,
    -1.6, -1.3, -0.7, -0.6, -0.55, -0.5, -0.4, 0.0, -0.3, -0.6,
    -0.8, -0.5, -1.0, -1.2, -1.0, -0.6, -0.8, -0.3, -0.8, -0.4,
    0.1, 0.0, -0.4, -0.2, 0.0, -0.2, -0.6, -1.2, -0.4, 0.0,
    0.2, 0.4, 0.7, 1.15, 1.2, 1.2, 1.1, 1.05, 1.1, 1.0,
    0.5, 0.7, 0.8, 0.7, 0.8, 0.9, 1.0, 1.2, 1.7, 1.5,
    0.9, 0.7, 0.8, 0.8, 0.8, 0.8, 0.7, 0.8, 1.3, 1.6,
    1.3, 1.4, 1.2, 1.5, 1.4, 1.7, 2.3, 1.5, 0.6, -0.1,
    0.0, -0.1, 0.0, 0.0, 0.0, -0.2, -1.0, -2.1, -0.5, 0.3,
    0.3, 0.35, 0.4, 0.3, 0.4, 0.3, -0.8, 0.2, 0.5, 0.9,
    0.95, 1.0, 1.05, 1.2, 1.1, 1.5, 1.0, 1.1, 0.2, -0.4,
    -0.4, -0.45, -0.6, -0.6, -0.3, 0.0, 0.5, 0.0, 0.3, 0.4,
    0.5, 0.6, 0.8, 0.9, 0.5, 0.8, 0.0, 0.9, 0.1, 0.9,
    0.8, 0.85, 0.8, 0.9, 0.8, 0.3, -0.2, -0.4, -0.2, -0.4,
    -0.7, -0.8, -1.0, -1.1, -1.3, -1.5, -0.7, -1.5, -1.6, -1.8,
    -1.9, -2.1, -2.3, -2.2, -2.2, -2.35, -1.7, -1.4, -1.1, -1.4,
    -1.4, -1.4, -1.4, -1.5, -1.3, -1.3, -1.4, -1.0, -0.7, -1.2,
    -1.3, -1.3, -1.4, -1.0, -1.3, -1.4, -0.2, -0.5, -0.7, -1.0,
    -1.1, -1.1, -1.1, -1.1, -1.3, -1.8, -0.9, -1.2, -1.4, -1.6,
    -1.6, -1.7, -1.6, -1.7, -1.8, -1.6, -3.7, -0.5, -0.4, -0.5,
    -0.5, -0.9, -0.9, -0.8, -0.7, -0.5, -0.3, 0.1, 0.3, 0.4,
    0.6, 0.8, 0.7, 1.1, 1.2, 1.6, 1.4, 0.9, 0.6, 0.6,
    1.0]

BORDER = "#6b6b6b"


def panel(letter, years, spi, spei, names, xmax, ydomain, yticks, w, h,
          legx, legy, title_dx, title_dy, right_border):
    d_spi = pd.DataFrame({"year": years, "value": spi, "series": names[0]})
    d_spei = pd.DataFrame({"year": years, "value": spei, "series": names[1]})
    d_zero = pd.DataFrame({"value": [0.0]})
    d_top = pd.DataFrame({"value": [float(ydomain[1])]})
    d_right = pd.DataFrame({"year": [float(xmax)]})

    x = alt.X("year:Q",
              scale=alt.Scale(domain=[1980, xmax], nice=False, zero=False),
              axis=alt.Axis(values=XTICKS, format="d", title="Year",
                            labelPadding=7, titlePadding=7, labelFlush=False))
    y = alt.Y("value:Q",
              scale=alt.Scale(domain=ydomain, nice=False, zero=False),
              axis=alt.Axis(values=yticks, title="Values", labelPadding=7,
                            titlePadding=3, labelFlush=False))
    color = alt.Color(
        "series:N",
        scale=alt.Scale(domain=names, range=["#ff0000", "#0000ff"]),
        legend=alt.Legend(
            orient="none", legendX=legx, legendY=legy, direction="horizontal",
            title=None, symbolType="M-1.65,0L1.65,0", symbolSize=289,
            symbolStrokeWidth=2, symbolOffset=6.5, labelOffset=9,
            columnPadding=3, padding=3, labelFontSize=14, labelFont=FONT,
            labelColor="#111111", strokeColor="#7f7f7f", fillColor="white"),
    )
    l_spi = alt.Chart(d_spi).mark_line(strokeWidth=2.5, clip=True).encode(x=x, y=y, color=color)
    l_spei = alt.Chart(d_spei).mark_line(strokeWidth=2.5, clip=True).encode(x=x, y=y, color=color)
    zero = alt.Chart(d_zero).mark_rule(color="#3a3a3a", strokeWidth=1.2).encode(y=alt.Y("value:Q"))
    top = alt.Chart(d_top).mark_rule(color=BORDER, strokeWidth=1).encode(y=alt.Y("value:Q"))
    layers = [l_spi, l_spei, zero, top]
    if right_border:
        layers.append(alt.Chart(d_right).mark_rule(color=BORDER, strokeWidth=1)
                      .encode(x=alt.X("year:Q")))
    return alt.layer(*layers).properties(
        width=w, height=h,
        title=alt.TitleParams(text=letter, anchor="start", frame="group", fontSize=28,
                              fontWeight="bold", font=FONT, color="black",
                              dx=title_dx, dy=title_dy, offset=0, baseline="alphabetic"),
    )


pa = panel("a", A_YEAR, A_SPI, A_SPEI, ["SPI-3", "SPEI-3"], 2017.9, [-4, 4],
           [-4, -2, 0, 2, 4], 511, 239, 98, 9, -47, 33, True)
pb = panel("b", B_YEAR, B_SPI, B_SPEI, ["SPI-6", "SPEI-6"], 2016.85, [-4, 5],
           [-4, -2, 0, 2, 4], 492, 242, 31, 14, -47, 25, False)
pc = panel("c", C_YEAR, C_SPI, C_SPEI, ["SPI-12", "SPEI-12"], 2017.9, [-3, 3],
           [-3, -2, -1, 0, 1, 2, 3], 511, 245, 146, 15, -45, 29, True)
pd_ = panel("d", D_YEAR, D_SPI, D_SPEI, ["SPI-24", "SPEI-24"], 2017.08, [-4, 4],
            [-4, -2, 0, 2, 4], 492, 243, 92, 18, -47, 27, False)

chart = alt.concat(pa, pb, pc, pd_, columns=2, spacing={"row": 91, "column": 72},
                   bounds="flush")
chart = chart.resolve_scale(x="independent", y="independent", color="independent")
chart = chart.resolve_legend(color="independent")
chart = chart.resolve_axis(x="independent", y="independent")
chart = chart.properties(padding={"left": 0, "top": 3, "right": 0, "bottom": 0})
chart = chart.configure(font=FONT).configure_view(stroke=None)
chart = chart.configure_axis(grid=True, gridColor="#e4e4e4", gridWidth=1, domain=True,
                             domainColor=BORDER, domainWidth=1, ticks=False,
                             labelColor="#1a1a1a", labelFont=FONT, titleFont=FONT,
                             titleFontWeight="normal", titleColor="#1a1a1a")
chart = chart.configure_axisX(labelFontSize=15, titleFontSize=18)
chart = chart.configure_axisY(labelFontSize=16, titleFontSize=19)

chart.save("out.html", embed_options={"renderer": "svg", "actions": False})
